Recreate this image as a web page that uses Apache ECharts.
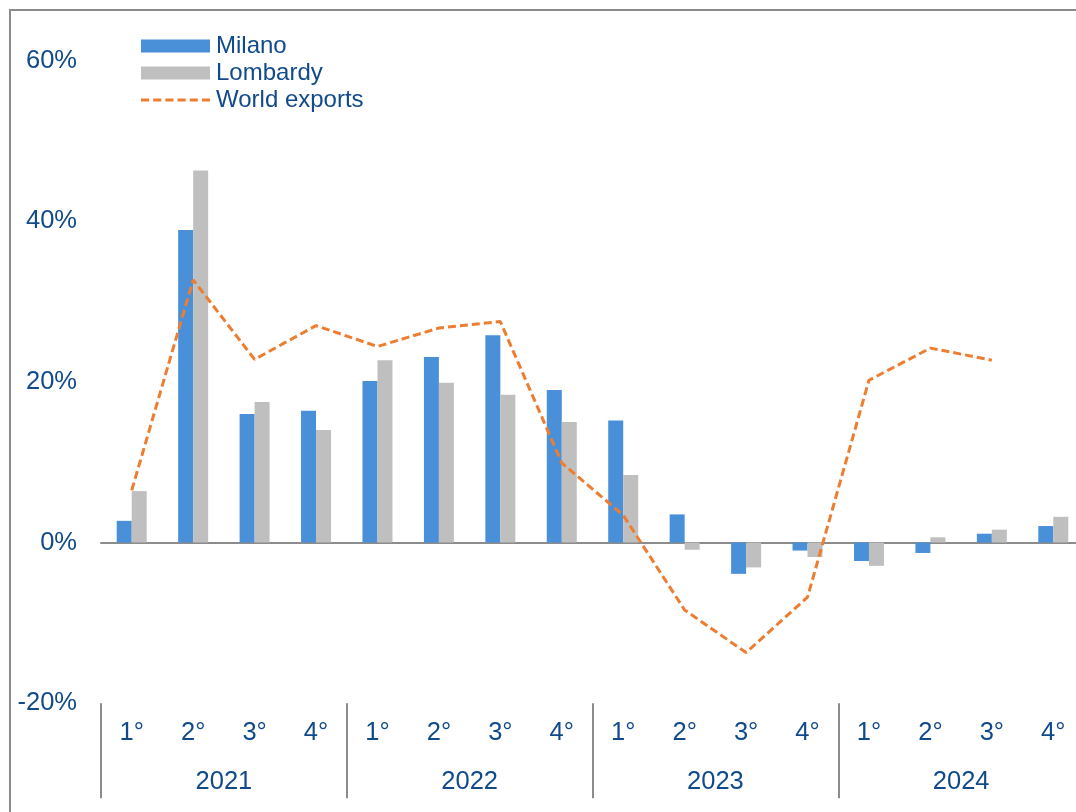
<!DOCTYPE html>
<html>
<head>
<meta charset="utf-8">
<title>Milano, Lombardy and world exports</title>
<script src="https://cdn.jsdelivr.net/npm/echarts@6/dist/echarts.min.js"></script>
<style>
  html, body { margin: 0; padding: 0; background: #ffffff; overflow: hidden; width: 1076px; height: 812px; }
  /* the plot runs slightly past the right edge of the frame */
  #chart { width: 1100px; height: 812px; }
</style>
</head>
<body>
<div id="chart"></div>
<script>
// Quarterly export growth, year-on-year (%)
const quarters = ['1°', '2°', '3°', '4°', '1°', '2°', '3°', '4°', '1°', '2°', '3°', '4°', '1°', '2°', '3°', '4°'];
const years = ['2021', '2022', '2023', '2024'];

const milano = [2.7, 38.9, 16.0, 16.4, 20.1, 23.1, 25.8, 19.0, 15.2, 3.5, -3.9, -1.0, -2.3, -1.3, 1.1, 2.05];
const lombardy = [6.4, 46.3, 17.5, 14.0, 22.7, 19.9, 18.4, 15.0, 8.4, -0.9, -3.1, -1.8, -2.9, 0.65, 1.6, 3.2];
const worldExports = [6.5, 32.7, 22.8, 27.0, 24.4, 26.7, 27.5, 9.9, 3.4, -8.4, -13.7, -6.8, 20.2, 24.2, 22.7, null];

const yTicks = { min: -20, max: 60, interval: 20 };

const textBlue = '#114a8b';
const axisGrey = '#8c8c8c';
const fontFamily = '"Liberation Sans", Arial, sans-serif';
const axisFont = 25.5;

const chart = echarts.init(document.getElementById('chart'), null, { renderer: 'canvas' });

chart.setOption({
  animation: false,
  backgroundColor: '#ffffff',
  textStyle: { fontFamily: fontFamily },
  graphic: [{
    type: 'rect',
    shape: { x: 10, y: 10, width: 1120, height: 900 },
    style: { fill: 'none', stroke: axisGrey, lineWidth: 2 },
    silent: true,
    z: 0
  }],
  legend: {
    orient: 'vertical',
    left: 141,
    top: 34,
    padding: 0,
    itemWidth: 69,
    itemHeight: 13,
    itemGap: 3,
    icon: 'rect',
    textStyle: {
      color: textBlue,
      fontSize: 24,
      lineHeight: 24,
      fontFamily: fontFamily,
      padding: [0, 0, 0, 1]
    },
    data: [
      { name: 'Milano', icon: 'rect' },
      { name: 'Lombardy', icon: 'rect' },
      { name: 'World exports', icon: 'path://M0,0 L8,0 L8,3 L0,3 Z M12,0 L20,0 L20,3 L12,3 Z M24,0 L32,0 L32,3 L24,3 Z M36,0 L44,0 L44,3 L36,3 Z M48,0 L56,0 L56,3 L48,3 Z M60,0 L68,0 L68,3 L60,3 Z', itemStyle: { color: '#ed7d31' } }
    ]
  },
  grid: {
    left: 101,
    width: 983,
    top: 60.5,
    bottom: 108.8,
    containLabel: false
  },
  xAxis: [
    {
      // zero line running through the bars
      type: 'category',
      data: quarters,
      gridIndex: 0,
      axisLine: { show: true, onZero: true, lineStyle: { color: axisGrey, width: 2 } },
      axisTick: { show: false },
      axisLabel: { show: false },
      splitLine: { show: false }
    },
    {
      // quarter labels below the plot
      type: 'category',
      data: quarters,
      gridIndex: 0,
      position: 'bottom',
      axisLine: { show: false, onZero: false },
      axisTick: { show: false },
      axisLabel: {
        show: true,
        interval: 0,
        margin: 17,
        color: textBlue,
        fontSize: axisFont,
        fontFamily: fontFamily
      },
      splitLine: { show: false }
    },
    {
      // year labels with separators between years
      type: 'category',
      data: years,
      gridIndex: 0,
      position: 'bottom',
      axisLine: { show: false, onZero: false },
      axisTick: {
        show: true,
        inside: false,
        length: 95,
        lineStyle: { color: axisGrey, width: 2 }
      },
      axisLabel: {
        show: true,
        interval: 0,
        margin: 66,
        color: textBlue,
        fontSize: axisFont,
        fontFamily: fontFamily
      },
      splitLine: { show: false }
    }
  ],
  yAxis: {
    type: 'value',
    min: yTicks.min,
    max: yTicks.max,
    interval: yTicks.interval,
    axisLine: { show: false },
    axisTick: { show: false },
    splitLine: { show: false },
    axisLabel: {
      margin: 24,
      color: textBlue,
      fontSize: axisFont,
      fontFamily: fontFamily,
      formatter: v => v + '%'
    }
  },
  series: [
    {
      name: 'Milano',
      type: 'bar',
      xAxisIndex: 0,
      data: milano,
      barWidth: 15,
      barGap: '0%',
      itemStyle: { color: '#4a90d9' },
      z: 2
    },
    {
      name: 'Lombardy',
      type: 'bar',
      xAxisIndex: 0,
      data: lombardy,
      barWidth: 15,
      barGap: '0%',
      itemStyle: { color: '#bfbfbf' },
      z: 2
    },
    {
      name: 'World exports',
      type: 'line',
      xAxisIndex: 0,
      data: worldExports,
      symbol: 'none',
      connectNulls: false,
      lineStyle: { color: '#ed7d31', width: 3, type: [8, 4] },
      itemStyle: { color: '#ed7d31' },
      z: 3
    }
  ]
});
</script>
</body>
</html>
